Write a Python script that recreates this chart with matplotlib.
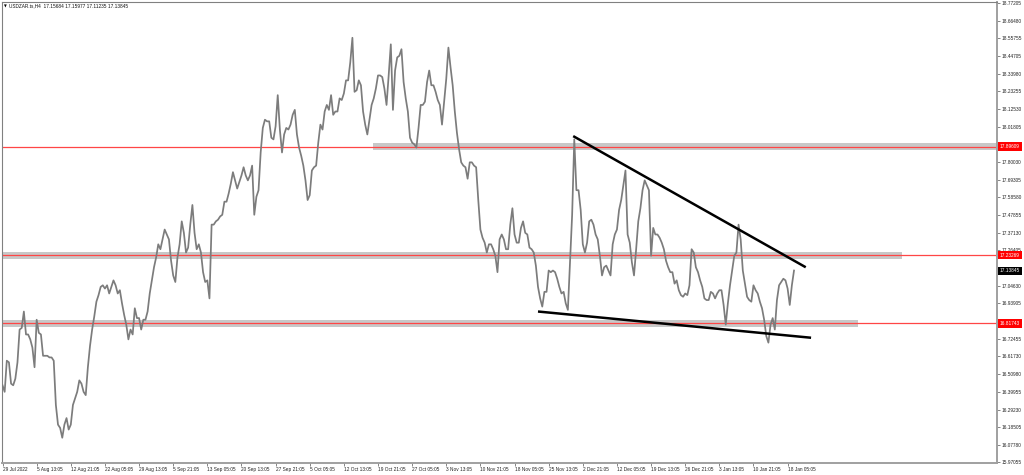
import matplotlib
matplotlib.use('Agg')
import matplotlib.pyplot as plt
import numpy as np

plt.rcParams['font.family'] = ['Liberation Sans', 'DejaVu Sans']

# ---------------- data ----------------
symbol_title = "USDZAR.ts,H4  17.15684 17.15977 17.11235 17.13845"
bar_step = 2   # one sample every 2 H4 bars

closes = [
    16.44, 16.40, 16.59, 16.58, 16.45, 16.44, 16.48, 16.58, 16.78, 16.79,
    16.89, 16.75, 16.75, 16.72, 16.67, 16.55, 16.84, 16.76, 16.75, 16.62,
    16.62, 16.62, 16.61, 16.61, 16.59, 16.32, 16.20, 16.18, 16.12, 16.20,
    16.24, 16.17, 16.20, 16.32, 16.36, 16.40, 16.47, 16.45, 16.40, 16.38,
    16.55, 16.68, 16.78, 16.86, 16.95, 16.99, 17.04, 17.05, 17.03, 17.05,
    17.00, 17.04, 17.08, 17.05, 17.00, 17.02, 16.94, 16.87, 16.81, 16.72,
    16.78, 16.75, 16.91, 16.85, 16.85, 16.78, 16.84, 16.84, 16.89, 17.00,
    17.08, 17.16, 17.22, 17.30, 17.27, 17.33, 17.39, 17.36, 17.33, 17.20,
    17.11, 17.07, 17.22, 17.30, 17.44, 17.37, 17.25, 17.28, 17.42, 17.54,
    17.37, 17.27, 17.30, 17.25, 17.13, 17.07, 17.08, 16.97, 17.42, 17.42,
    17.44, 17.45, 17.47, 17.48, 17.56, 17.56, 17.61, 17.67, 17.74, 17.69,
    17.64, 17.68, 17.72, 17.77, 17.72, 17.69, 17.72, 17.78, 17.48, 17.59,
    17.63, 17.86, 18.01, 18.06, 18.05, 18.05, 17.95, 17.94, 18.02, 18.21,
    18.00, 17.86, 17.97, 18.01, 18.00, 18.03, 18.09, 18.12, 17.97, 17.89,
    17.84, 17.78, 17.69, 17.57, 17.60, 17.75, 17.77, 17.78, 17.92, 18.03,
    18.00, 18.11, 18.15, 18.12, 18.21, 18.09, 18.11, 18.11, 18.19, 18.18,
    18.22, 18.30, 18.30, 18.41, 18.56, 18.23, 18.24, 18.30, 18.27, 18.11,
    18.03, 17.97, 18.06, 18.15, 18.19, 18.25, 18.33, 18.33, 18.32, 18.25,
    18.15, 18.33, 18.52, 18.12, 18.36, 18.44, 18.45, 18.49, 18.29, 18.19,
    18.11, 17.95, 17.92, 17.91, 17.89, 18.01, 18.15, 18.15, 18.17, 18.29,
    18.36, 18.27, 18.27, 18.23, 18.18, 18.15, 18.03, 18.17, 18.31, 18.50,
    18.38, 18.27, 18.11, 17.98, 17.88, 17.80, 17.78, 17.77, 17.70, 17.80,
    17.80, 17.78, 17.77, 17.57, 17.39, 17.34, 17.31, 17.25, 17.30, 17.30,
    17.27, 17.23, 17.13, 17.33, 17.36, 17.33, 17.27, 17.27, 17.42, 17.52,
    17.36, 17.31, 17.31, 17.40, 17.44, 17.37, 17.36, 17.28, 17.27, 17.25,
    17.17, 17.04, 16.97, 16.92, 17.01, 17.01, 17.14, 17.13, 17.14, 17.13,
    17.09, 17.04, 17.00, 17.01, 16.94, 16.90, 17.19, 17.48, 17.94, 17.63,
    17.63, 17.51, 17.30, 17.25, 17.31, 17.44, 17.45, 17.42, 17.36, 17.33,
    17.23, 17.11, 17.16, 17.17, 17.14, 17.11, 17.30, 17.36, 17.39, 17.51,
    17.57, 17.66, 17.75, 17.36, 17.31, 17.19, 17.11, 17.27, 17.44, 17.52,
    17.63, 17.69, 17.66, 17.63, 17.23, 17.40, 17.36, 17.36, 17.34, 17.31,
    17.27, 17.20, 17.16, 17.13, 17.13, 17.06, 17.08, 17.02, 16.99, 16.98,
    17.00, 16.99, 17.05, 17.27, 17.25, 17.16, 17.13, 17.08, 17.04, 16.97,
    16.96, 16.96, 17.01, 17.00, 16.97, 17.00, 17.02, 17.02, 16.93, 16.81,
    16.94, 17.05, 17.14, 17.23, 17.25, 17.42, 17.33, 17.14, 17.06, 16.98,
    16.96, 16.95, 17.05, 17.02, 17.00, 16.95, 16.91, 16.84, 16.74, 16.70,
    16.81, 16.85, 16.78, 16.96, 17.05, 17.07, 17.09, 17.08, 17.03, 16.93,
    17.05, 17.14,
]

time_labels = [
    '29 Jul 2022', '5 Aug 13:05', '12 Aug 21:05', '22 Aug 05:05', '29 Aug 13:05',
    '5 Sep 21:05', '13 Sep 05:05', '20 Sep 13:05', '27 Sep 21:05', '5 Oct 05:05',
    '12 Oct 13:05', '19 Oct 21:05', '27 Oct 05:05', '3 Nov 13:05', '10 Nov 21:05',
    '18 Nov 05:05', '25 Nov 13:05', '2 Dec 21:05', '12 Dec 05:05', '19 Dec 13:05',
    '26 Dec 21:05', '3 Jan 13:05', '10 Jan 21:05', '18 Jan 05:05',
]
bars_per_label = 32

price_ticks = [
    18.77205, 18.66480, 18.55755, 18.44705, 18.33980, 18.23255, 18.12530,
    18.01805, 17.80030, 17.69305, 17.58580, 17.47855, 17.37130, 17.26405,
    17.04630, 16.93905, 16.72455, 16.61730, 16.50980, 16.39955, 16.29230,
    16.18505, 16.07780, 15.97055,
]

levels = [17.89609, 17.23269, 16.81743]
level_labels = ['17.89609', '17.23269', '16.81743']
band_start_bar = [347, 0, 0]
band_end_bar = [933, 843, 802]
band_half_height = 0.021

last_price = 17.13845
last_price_label = '17.13845'

upper_trend_bars = [535, 753]
upper_trend_prices = [17.96, 17.16]
lower_trend_bars = [502, 758]
lower_trend_prices = [16.89, 16.73]

# ---------------- figure ----------------
W, H = 1024, 475
fig = plt.figure(figsize=(W / 100, H / 100), dpi=100)
fig.patch.set_facecolor('white')
ax = fig.add_axes([2 / W, (H - 463) / H, 995 / W, 461 / H])
ax.set_facecolor('white')

ax.set_xlim(-0.5, 932.3)
ax.set_ylim(15.966, 18.778)

# bands
for lv, s, e in zip(levels, band_start_bar, band_end_bar):
    ax.fill_between([s, e], lv - band_half_height, lv + band_half_height,
                    color='#c8c8c8', lw=0, zorder=1)
# red horizontal levels
for lv in levels:
    ax.axhline(lv, color='#ff4646', lw=0.9, zorder=2)

# price series
x = np.arange(len(closes)) * bar_step
ax.plot(x, closes, color='#7c7c7c', lw=1.25, zorder=3)

# trend lines
ax.plot(upper_trend_bars, upper_trend_prices, color='black', lw=1.8, zorder=4,
        solid_capstyle='butt')
ax.plot(lower_trend_bars, lower_trend_prices, color='black', lw=1.8, zorder=4,
        solid_capstyle='butt')

# axes styling
for sp in ax.spines.values():
    sp.set_color('#808080')
    sp.set_linewidth(0.8)
ax.spines['right'].set_color('#a0a0a0')
ax.spines['right'].set_linewidth(1.4)
ax.spines['bottom'].set_color('#a0a0a0')
ax.spines['bottom'].set_linewidth(1.4)

ax.yaxis.tick_right()
ax.set_yticks(price_ticks)
ax.set_yticklabels([f'{v:.5f}' for v in price_ticks])
ax.tick_params(axis='y', which='major', right=True, left=False, length=2,
               width=0.5, color='#555555', labelsize=3.4, pad=1.5,
               labelcolor='#222222')

xt = np.arange(len(time_labels)) * bars_per_label
ax.set_xticks(xt)
ax.set_xticklabels(time_labels)
ax.tick_params(axis='x', which='major', bottom=True, length=2, width=0.5,
               color='#555555', labelsize=3.4, pad=1.0, labelcolor='#222222')
for lab in ax.get_xticklabels():
    lab.set_horizontalalignment('left')

ytr = ax.get_yaxis_transform()
for lv, txt in zip(levels, level_labels):
    ax.annotate(txt, xy=(1, lv), xycoords=ytr, xytext=(2.2, 0),
                textcoords='offset points', ha='left', va='center',
                fontsize=3.4, color='white', annotation_clip=False,
                bbox=dict(boxstyle='square,pad=0.35', fc='#ff0000', ec='none'))
ax.annotate(last_price_label, xy=(1, last_price), xycoords=ytr, xytext=(2.2, 0),
            textcoords='offset points', ha='left', va='center',
            fontsize=3.4, color='white', annotation_clip=False,
            bbox=dict(boxstyle='square,pad=0.35', fc='#000000', ec='none'))

# title
fig.text(4 / W, 1 - 6 / H, '\u25BC', fontsize=2.6, color='black',
         ha='left', va='center', family=['DejaVu Sans'])
fig.text(9 / W, 1 - 6 / H, symbol_title, fontsize=3.4, color='#111111',
         ha='left', va='center')

fig.savefig('out.png', dpi=100, facecolor='white')
